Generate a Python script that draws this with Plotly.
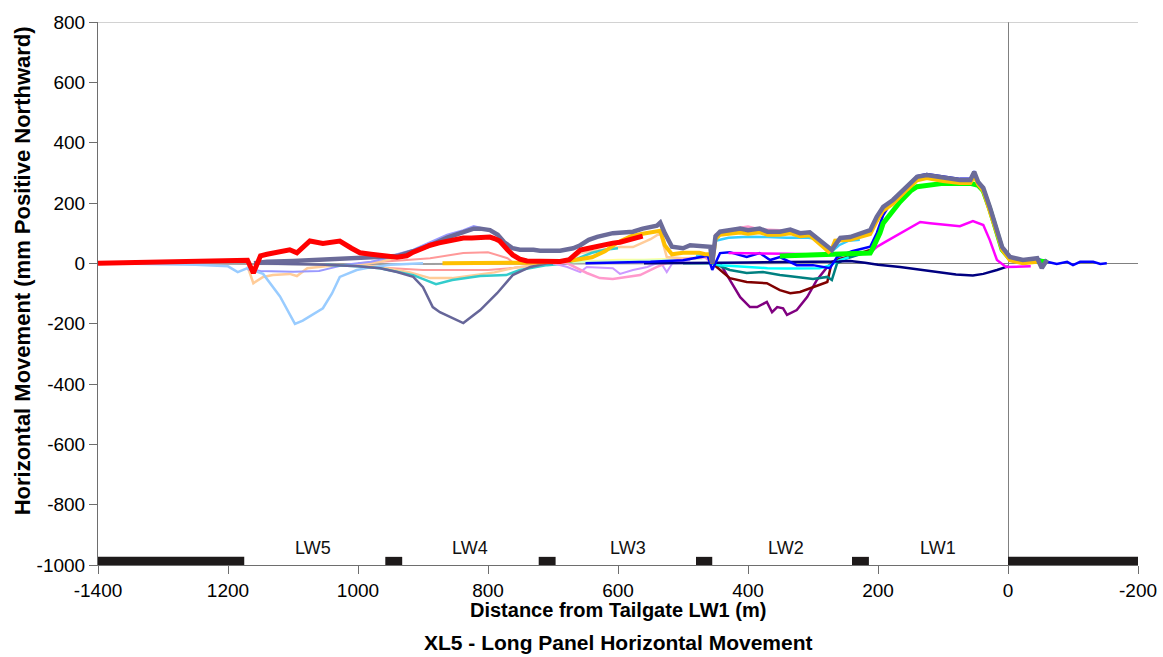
import plotly.graph_objects as go

# ---------------- data ----------------
x_tickvals = [1400, 1200, 1000, 800, 600, 400, 200, 0, -200]
x_ticktext = ["-1400", "1200", "1000", "800", "600", "400", "200", "0", "-200"]
y_tickvals = [800, 600, 400, 200, 0, -200, -400, -600, -800, -1000]
y_ticktext = ["800", "600", "400", "200", "0", "-200", "-400", "-600", "-800", "-1000"]

panel_names = ["LW5", "LW4", "LW3", "LW2", "LW1"]
panel_centres = [1069, 828, 584, 342, 108]
pillar_starts = [1400, 958, 722, 480, 240, 0]
pillar_ends = [1175, 932, 696, 455, 214, -200]

gray_x = [1400, 1200, 1100, 900, 700, 500, 400, 300, 260]
gray_y = [0, -2, -3, -2, 0, 0, 0, 0, 2]

lyel_x = [720, 680, 640, 600, 560, 520, 480]
lyel_y = [0, 3, 8, 12, 12, 15, 20]

lgrn_x = [720, 650, 600, 540, 500, 470]
lgrn_y = [0, 5, 8, 10, 12, 15]

salm2_x = [1000, 960, 900, 800, 760, 720, 700]
salm2_y = [-5, -15, -22, -22, -15, -5, 0]

salm1_x = [1000, 960, 930, 889, 838, 800, 770, 760, 720]
salm1_y = [0, 5, 10, 17, 34, 37, 17, 0, 0]

peach2_x = [1000, 960, 920, 889, 855, 820, 790, 760, 720, 689, 670, 658, 640, 608, 597, 577, 550, 535, 525, 500, 480]
peach2_y = [-5, -15, -30, -49, -49, -40, -30, -15, -5, 0, 15, 34, 40, 50, 54, 54, 80, 100, 21, 17, 17]

peach1_x = [1170, 1161, 1146, 1131, 1105, 1094, 1078, 1050, 1000, 966, 940, 915, 889, 863, 838, 820, 812]
peach1_y = [-10, -66, -45, -39, -35, -42, -16, -10, -5, 5, 20, 40, 60, 80, 100, 117, 110]

lav_x = [1170, 1150, 1100, 1060, 1040, 1020, 980, 960, 940, 915, 889, 863, 838, 822, 812]
lav_y = [-20, -25, -28, -25, -15, -5, 5, 15, 30, 45, 70, 95, 110, 124, 118]

lblue_x = [1400, 1300, 1250, 1200, 1185, 1170, 1146, 1120, 1097, 1085, 1054, 1040, 1028, 1002, 985, 950, 900]
lblue_y = [0, -3, -5, -10, -29, -16, -35, -110, -201, -190, -149, -100, -45, -22, -15, -5, 0]

turq_x = [1050, 1000, 966, 915, 880, 855, 812, 772, 751, 709, 678, 658, 640, 620, 600]
turq_y = [-5, -10, -16, -39, -69, -55, -42, -39, -22, -6, 0, 20, 35, 45, 50]

slatet_x = [1160, 1050, 1000, 966, 940, 915, 900, 885, 874, 838, 812, 786, 762, 735, 709, 680]
slatet_y = [0, -5, -10, -16, -29, -45, -79, -145, -162, -198, -155, -99, -39, -12, 0, 0]

violet_x = [700, 678, 658, 648, 608, 597, 577, 555, 535, 525, 515, 489]
violet_y = [0, -12, -29, -12, -16, -35, -22, -12, 5, -29, 5, 10]

pink_x = [700, 678, 648, 628, 608, 586, 566, 540, 520, 490, 466, 455, 450, 430, 412, 400, 382, 351, 320]
pink_y = [0, 0, -32, -49, -52, -45, -39, -12, 5, 15, 20, 0, 95, 108, 118, 122, 112, 110, 102]

purple_x = [454, 443, 428, 412, 397, 386, 371, 363, 355, 346, 340, 325, 309, 294, 278, 271]
purple_y = [0, 0, -55, -112, -145, -145, -128, -162, -145, -149, -171, -155, -112, -55, -12, 0]

maroon_x = [455, 428, 402, 371, 351, 335, 320, 300, 278, 271, 258, 240, 212]
maroon_y = [0, -49, -62, -66, -89, -99, -95, -79, -62, 5, 15, 25, 44]

teal_x = [500, 470, 454, 428, 402, 377, 351, 325, 300, 278, 271, 263, 250, 235, 212]
teal_y = [0, 0, 0, -22, -32, -29, -39, -45, -52, -45, -55, 0, 15, 25, 40]

cyan_x = [455, 443, 430, 400, 370, 340, 310, 290, 275, 268, 260, 245]
cyan_y = [0, -6, -8, -12, -16, -17, -17, -16, -8, 0, 10, 20]

sky_x = [480, 465, 455, 450, 430, 400, 370, 340, 310, 290, 280, 271, 260, 245, 228]
sky_y = [25, 30, 0, 75, 85, 88, 87, 85, 86, 80, 55, 40, 60, 75, 78]

navy_x = [560, 500, 470, 440, 400, 350, 300, 260, 243, 220, 200, 166, 140, 110, 80, 54, 38, 17, 0]
navy_y = [0, 0, 0, 2, 3, 5, 5, 6, 8, 2, -5, -12, -20, -30, -37, -40, -35, -22, -10]

blue_x = [650, 600, 550, 500, 470, 462, 455, 443, 428, 412, 402, 382, 366, 351, 325, 300, 274, 263, 240, 212,
          202, 192, 177, 155, 140, 125, 100, 74, 58, 52, 46, 38, 28, 17, 9, -3, -23, -45, -60, -75,
          -91, -100, -111, -131, -142, -152]
blue_y = [0, 2, 5, 10, 20, 25, -22, 34, 37, 28, 21, 34, 11, 21, -6, -6, -16, 21, 40, 55,
          100, 160, 212, 256, 289, 296, 287, 280, 280, 305, 272, 252, 190, 112, 55, 22, 10, 15, 5, -2,
          5, -6, 5, 5, -2, 0]

mag_x = [430, 400, 370, 340, 310, 290, 260, 228, 212, 202, 192, 166, 135, 120, 100, 74, 54, 38, 28, 17, 3, -23, -35]
mag_y = [34, 34, 33, 32, 30, 30, 30, 32, 36, 54, 67, 100, 137, 133, 128, 123, 140, 127, 77, 11, -12, -9, -10]

green_x = [351, 320, 290, 258, 228, 212, 208, 197, 192, 166, 150, 140, 100, 74, 58, 46, 38, 28, 17, 9, -3, -23, -45, -60]
green_y = [24, 26, 28, 30, 32, 34, 50, 100, 133, 204, 240, 254, 265, 265, 265, 259, 240, 180, 105, 45, 15, 5, 8, 5]

gold_x = [870, 840, 800, 765, 740, 700, 669, 640, 620, 600, 580, 562, 548, 535, 528, 517, 500, 489, 475, 466,
          458, 455, 450, 443, 430, 412, 400, 382, 370, 351, 335, 320, 305, 290, 282, 276, 271, 266, 258, 243,
          212, 202, 192, 177, 155, 140, 125, 100, 74, 58, 52, 46, 38, 28, 17, 9, -3, -23, -45]
gold_y = [0, 0, 0, 0, 2, 5, 10, 20, 40, 70, 90, 98, 102, 108, 60, 30, 35, 35, 35, 30,
          30, 0, 80, 95, 98, 102, 98, 103, 95, 95, 100, 90, 93, 67, 50, 38, 48, 75, 75, 78,
          97, 140, 175, 198, 245, 275, 283, 273, 266, 266, 290, 262, 240, 177, 100, 45, 10, 0, 5]

slate_x = [1160, 1140, 1100, 1050, 1000, 970, 950, 940, 915, 889, 863, 838, 822, 812, 797, 785, 775, 762, 751, 730,
           720, 700, 689, 669, 658, 645, 632, 608, 577, 562, 548, 540, 535, 528, 517, 500, 489, 475, 466, 458,
           455, 450, 443, 430, 412, 400, 382, 370, 351, 335, 320, 305, 290, 282, 276, 271, 266, 258, 243, 212,
           202, 192, 177, 155, 140, 125, 100, 74, 58, 52, 46, 38, 28, 17, 9, -3, -23, -45, -52, -60]
slate_y = [0, 5, 8, 12, 16, 18, 20, 24, 40, 60, 85, 105, 115, 115, 110, 95, 70, 50, 45, 45,
           42, 42, 42, 50, 60, 78, 88, 100, 105, 115, 120, 125, 135, 100, 55, 50, 60, 58, 55, 55,
           0, 90, 105, 110, 115, 110, 115, 105, 105, 112, 100, 103, 77, 60, 50, 44, 60, 84, 87, 110,
           154, 187, 210, 254, 287, 293, 283, 276, 276, 303, 270, 250, 187, 110, 54, 21, 11, 17, -16, 12]

red_x = [1400, 1350, 1300, 1250, 1200, 1180, 1170, 1161, 1150, 1140, 1120, 1105, 1094, 1085, 1074, 1054, 1040, 1028,
         1010, 997, 980, 971, 951, 940, 925, 915, 900, 889, 875, 863, 850, 838, 825, 812, 797, 790, 782, 770, 762,
         751, 740, 720, 700, 689, 675, 669, 658, 645, 632, 620, 608, 597, 590, 577, 562]
red_y = [0, 3, 5, 5, 8, 10, 10, -32, 25, 30, 40, 45, 35, 55, 74, 66, 72, 74,
         50, 35, 30, 28, 24, 20, 25, 37, 50, 60, 68, 74, 80, 84, 84, 84, 87, 82, 74, 45, 28,
         14, 8, 7, 7, 6, 12, 24, 44, 50, 57, 62, 67, 70, 74, 80, 90]

# ---------------- figure ----------------
series = [
    (gray_x, gray_y, "#A0A0A0", 2),
    (lyel_x, lyel_y, "#FFFF99", 2),
    (lgrn_x, lgrn_y, "#CCFFCC", 2),
    (salm2_x, salm2_y, "#FF9999", 2),
    (salm1_x, salm1_y, "#FF9999", 2),
    (peach2_x, peach2_y, "#FFCC99", 2.5),
    (peach1_x, peach1_y, "#FFCC99", 2.5),
    (lav_x, lav_y, "#9999FF", 2),
    (lblue_x, lblue_y, "#99CCFF", 2.5),
    (turq_x, turq_y, "#33CCCC", 2.5),
    (slatet_x, slatet_y, "#666699", 2.5),
    (violet_x, violet_y, "#CC99FF", 2),
    (pink_x, pink_y, "#FF99CC", 2.5),
    (purple_x, purple_y, "#800080", 2.5),
    (maroon_x, maroon_y, "#800000", 2.5),
    (teal_x, teal_y, "#008080", 2.5),
    (cyan_x, cyan_y, "#00FFFF", 2.5),
    (sky_x, sky_y, "#33CCFF", 2.5),
    (navy_x, navy_y, "#000080", 2.5),
    (blue_x, blue_y, "#0000FF", 2.5),
    (mag_x, mag_y, "#FF00FF", 2.5),
    (green_x, green_y, "#00FF00", 5),
    (gold_x, gold_y, "#FFC000", 4),
    (slate_x, slate_y, "#6B6B99", 4.5),
    (red_x, red_y, "#FF0000", 5),
]

fig = go.Figure()
for xs, ys, col, w in series:
    fig.add_trace(go.Scatter(x=xs, y=ys, mode="lines",
                             line=dict(color=col, width=w), showlegend=False,
                             hoverinfo="skip"))

FONT = "Liberation Sans, Arial, sans-serif"

shapes = []
for s, e in zip(pillar_starts, pillar_ends):
    shapes.append(dict(type="rect", xref="x", yref="y", x0=s, x1=e, y0=-1000, y1=-973,
                       fillcolor="#1E1A1A", line=dict(width=0), layer="above"))
shapes.append(dict(type="line", xref="paper", yref="y", x0=0, x1=1, y0=800, y1=800,
                   line=dict(color="#A6A6A6", width=1)))

annotations = []
for name, cx in zip(panel_names, panel_centres):
    annotations.append(dict(x=cx, y=-944, xref="x", yref="y", text=name, showarrow=False,
                            font=dict(family=FONT, size=18, color="#111111"),
                            xanchor="center", yanchor="middle"))
annotations.append(dict(x=0.5, y=-0.083, xref="paper", yref="paper",
                        text="<b>Distance from Tailgate LW1 (m)</b>", showarrow=False,
                        font=dict(family=FONT, size=20, color="#000000"),
                        xanchor="center", yanchor="middle"))
annotations.append(dict(x=0.5, y=-0.1436, xref="paper", yref="paper",
                        text="<b>XL5 - Long Panel Horizontal Movement</b>", showarrow=False,
                        font=dict(family=FONT, size=21, color="#000000"),
                        xanchor="center", yanchor="middle"))
annotations.append(dict(x=-0.073, y=0.541, xref="paper", yref="paper",
                        text="<b>Horizontal Movement (mm Positive Northward)</b>", showarrow=False,
                        textangle=-90,
                        font=dict(family=FONT, size=22, color="#000000"),
                        xanchor="center", yanchor="middle"))

fig.update_layout(
    width=1163, height=657,
    margin=dict(l=98, r=25, t=22, b=92),
    paper_bgcolor="white", plot_bgcolor="white",
    font=dict(family=FONT, size=19, color="#000000"),
    shapes=shapes, annotations=annotations,
    xaxis=dict(range=[1400, -200], tickmode="array", tickvals=x_tickvals, ticktext=x_ticktext,
               showgrid=False, zeroline=True, zerolinecolor="#808080", zerolinewidth=1,
               showline=True, linecolor="#6E6E6E", linewidth=1,
               ticks="outside", ticklen=8, tickcolor="#6E6E6E",
               tickfont=dict(family=FONT, size=19, color="#000000"), automargin=False),
    yaxis=dict(range=[-1000, 800], tickmode="array", tickvals=y_tickvals, ticktext=y_ticktext,
               showgrid=False, zeroline=True, zerolinecolor="#808080", zerolinewidth=1,
               showline=True, linecolor="#6E6E6E", linewidth=1,
               ticks="outside", ticklen=8, tickcolor="#6E6E6E",
               tickfont=dict(family=FONT, size=19, color="#000000"), automargin=False),
)

fig.write_html("out.html", config={"displayModeBar": False},
               post_script="document.body.style.margin='0';document.body.style.overflow='hidden';")
